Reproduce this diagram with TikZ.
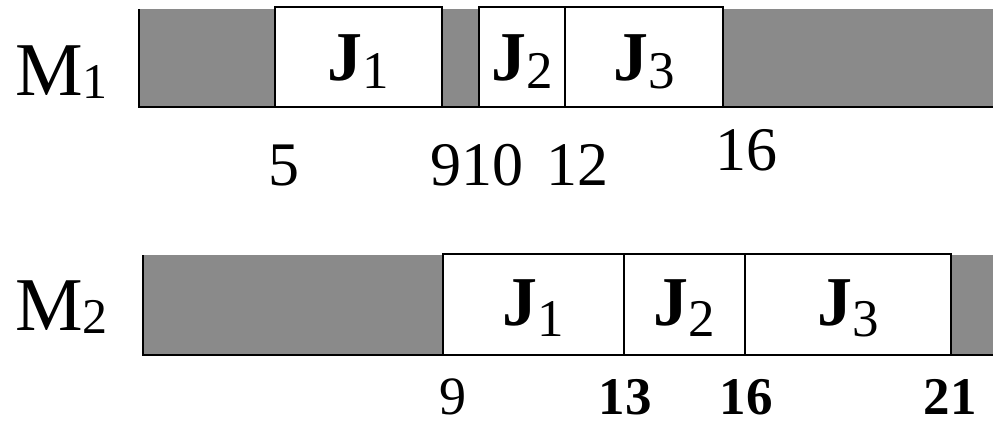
\documentclass[tikz,border=0pt]{standalone}
\usepackage{fontspec}
\setmainfont{Liberation Serif}
\usepackage{xcolor}
\definecolor{gtgray}{HTML}{8A8A8A}
\usetikzlibrary{positioning}
\newcommand{\gtjobname}[2]{{\bfseries J}\lower#2pt\hbox{\fontsize{53}{53}\selectfont #1}}
\newcommand{\gtmachname}[1]{M\lower3pt\hbox{\fontsize{50}{50}\selectfont #1}}
\tikzset{
  gtidle/.style={fill=gtgray},
  gtjob/.style={draw,fill=white,line width=2.2pt},
  gtbase/.style={line width=2.2pt},
  gtlabel/.style={anchor=base,inner sep=0pt,font=\fontsize{70}{80}\selectfont},
  gtmach/.style={anchor=base west,inner sep=0pt,font=\fontsize{76}{86}\selectfont},
  gttime/.style={anchor=base,inner sep=0pt,font=\fontsize{62}{70}\selectfont},
  gttimes/.style={anchor=base,inner sep=0pt,font=\fontsize{54}{60}\selectfont},
  gttimeb/.style={anchor=base,inner sep=0pt,font=\fontsize{53}{60}\selectfont\bfseries},
}

\begin{document}
\begin{tikzpicture}[x=1pt,y=-1pt]
\useasboundingbox (0,0) rectangle (993,424);
 % machine 1
\node[gtmach] (m1) at (15,95) {\gtmachname{1}};
\foreach \a/\b in {139/275,442/479,723/993}
  \fill[gtidle] (\a,9) rectangle (\b,107);
\foreach \a/\b/\n in {275/442/1,479/565/2,565/723/3}{
  \draw[gtjob] (\a,7) rectangle (\b,107);
  \node[gtlabel] (m1j\n) at ({(\a+\b)/2},80) {\gtjobname{\n}{8}};
}
\draw[gtbase] (139,9) -- (139,107) -- (993,107);
\foreach \x/\t in {284/5,446/9,492/10,577/12}
  \node[gttime] (m1t\t) at (\x,185) {\t};
\node[gttime] (m1t16) at (746,170) {16};
 % machine 2
\node[gtmach] (m2) at (15,330) {\gtmachname{2}};
\foreach \a/\b in {143/443,951/993}
  \fill[gtidle] (\a,255) rectangle (\b,355);
\foreach \a/\b/\n in {443/624/1,624/745/2,745/951/3}{
  \draw[gtjob] (\a,254) rectangle (\b,355);
  \node[gtlabel] (m2j\n) at ({(\a+\b)/2},325) {\gtjobname{\n}{11}};
}
\draw[gtbase] (143,255) -- (143,355) -- (993,355);
\node[gttimes] (m2t9) at (453,414) {9};
\foreach \x/\t in {625/13,746/16,950/21}
  \node[gttimeb] (m2t\t) at (\x,414) {\t};
\end{tikzpicture}
\end{document}
